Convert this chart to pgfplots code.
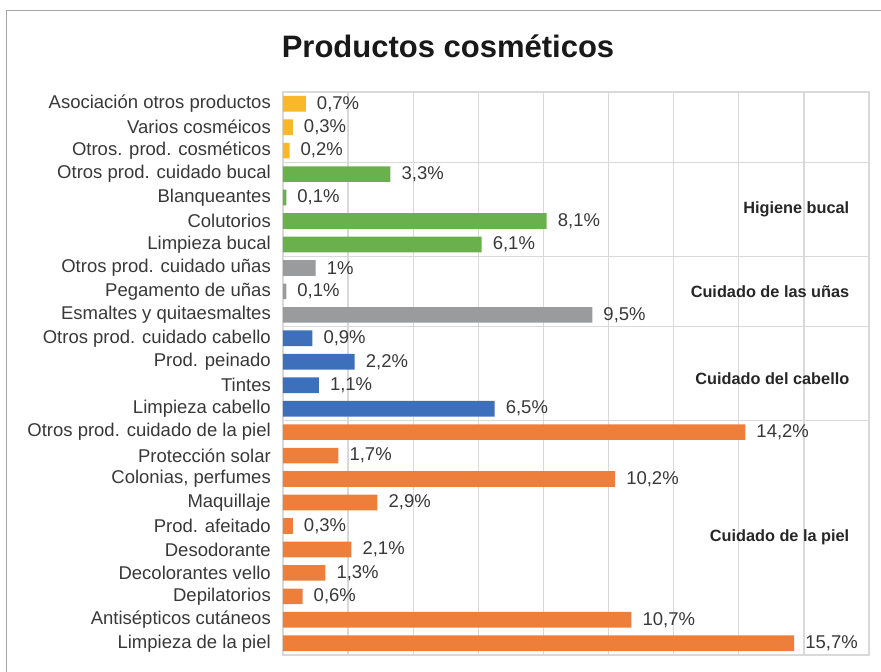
\documentclass[border=0pt]{standalone}
\usepackage{pgfplots}
\pgfplotsset{compat=1.18}
\usepackage{fontspec}
\setmainfont{Liberation Sans}
\definecolor{cY}{HTML}{F9B72A}
\definecolor{cG}{HTML}{6AB04C}
\definecolor{cS}{HTML}{9A9B9C}
\definecolor{cB}{HTML}{3D70BA}
\definecolor{cO}{HTML}{EE7F3B}
\definecolor{gridc}{HTML}{D9D9D9}
\definecolor{framec}{HTML}{A6A6A6}
\definecolor{txt}{HTML}{383838}
\begin{document}
\begin{tikzpicture}
\useasboundingbox (0,0) rectangle (881pt,672pt);
\draw[framec, line width=1.5pt] (6.5pt,0) -- (6.5pt,661.3pt) -- (881pt,661.3pt);
\node[anchor=base, inner sep=0pt, text=black!90] at (448pt,614pt) {\fontsize{31}{33}\selectfont\bfseries Productos cosméticos};
\begin{axis}[
  at={(283pt,17pt)}, anchor=south west,
  scale only axis, width=586pt, height=563pt,
  xmin=0, xmax=18, ymin=-0.5, ymax=23.5,
  xtick={0,2,...,18}, xticklabels={},
  ytick={0,...,23},
  yticklabels={Limpieza de la piel, Antisépticos cutáneos, Depilatorios, Decolorantes vello, Desodorante, Prod. afeitado, Maquillaje, {Colonias, perfumes}, Protección solar, Otros prod. cuidado de la piel, Limpieza cabello, Tintes, Prod. peinado, Otros prod. cuidado cabello, Esmaltes y quitaesmaltes, Pegamento de uñas, Otros prod. cuidado uñas, Limpieza bucal, Colutorios, Blanqueantes, Otros prod. cuidado bucal, Otros. prod. cosméticos, Varios cosméicos, Asociación otros productos},
  major tick length=0pt,
  xmajorgrids, grid style={gridc, line width=1.3pt},
  axis line style={gridc, line width=1.3pt},
  yticklabel style={anchor=east, inner sep=0pt, xshift=-12pt, text=txt, font=\fontsize{18.5}{20}\selectfont},
  /pgf/number format/assume math mode=true,
  xbar, bar width=0.667, bar shift=0pt,
  point meta=x,
  nodes near coords={\pgfmathprintnumber[fixed, precision=1, use comma]{\pgfplotspointmeta}\%},
  every node near coord/.append style={anchor=west, inner sep=0pt, xshift=11pt, text=txt, font=\fontsize{18.5}{20}\selectfont},
]
\draw[gridc, line width=1.3pt] (axis cs:0,9.5) -- (axis cs:18,9.5);
\draw[gridc, line width=1.3pt] (axis cs:0,13.5) -- (axis cs:18,13.5);
\draw[gridc, line width=1.3pt] (axis cs:0,16.5) -- (axis cs:18,16.5);
\draw[gridc, line width=1.3pt] (axis cs:0,20.5) -- (axis cs:18,20.5);
\addplot[fill=cO, draw=none] coordinates {(15.7,0) (10.7,1) (0.6,2) (1.3,3) (2.1,4) (0.3,5) (2.9,6) (10.2,7) (1.7,8) (14.2,9)};
\addplot[fill=cB, draw=none] coordinates {(6.5,10) (1.1,11) (2.2,12) (0.9,13)};
\addplot[fill=cS, draw=none] coordinates {(9.5,14) (0.1,15) (1.0,16)};
\addplot[fill=cG, draw=none] coordinates {(6.1,17) (8.1,18) (0.1,19) (3.3,20)};
\addplot[fill=cY, draw=none] coordinates {(0.2,21) (0.3,22) (0.7,23)};
\node[anchor=east, inner sep=0pt, text=black!85] at (axis cs:17.4,18.5) {\fontsize{16.3}{18}\selectfont\bfseries Higiene bucal};
\node[anchor=east, inner sep=0pt, text=black!85] at (axis cs:17.4,15) {\fontsize{16.3}{18}\selectfont\bfseries Cuidado de las uñas};
\node[anchor=east, inner sep=0pt, text=black!85] at (axis cs:17.4,11.3) {\fontsize{16.3}{18}\selectfont\bfseries Cuidado del cabello};
\node[anchor=east, inner sep=0pt, text=black!85] at (axis cs:17.4,4.5) {\fontsize{16.3}{18}\selectfont\bfseries Cuidado de la piel};
\end{axis}
\end{tikzpicture}
\end{document}
